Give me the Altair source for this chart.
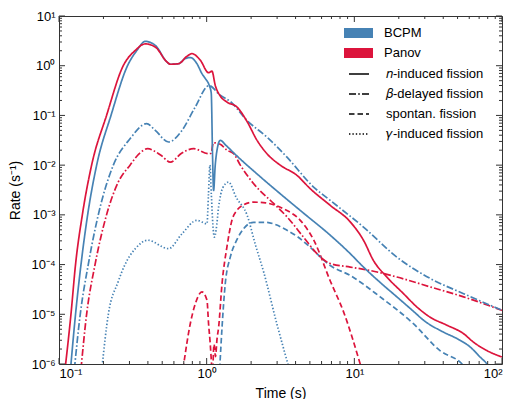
import altair as alt
import pandas as pd

# ---------------- data ----------------
models = ["BCPM", "Panov"]
model_colors = ["#4682b4", "#dc143c"]
kinds = ["𝑛-induced fission", "𝛽-delayed fission", "spontan. fission", "𝛾-induced fission"]
kind_dashes = [[1, 0], [7, 2.2, 1.6, 2.2], [5.5, 3], [1.4, 2]]

bcpm_n_t = [0.1197, 0.1294, 0.1409, 0.1563, 0.1799, 0.2249, 0.2911, 0.3373, 0.3837,
            0.4487, 0.5383, 0.5675, 0.6457, 0.7161, 0.7745, 0.859, 0.929, 0.9795, 1.042,
            1.074, 1.096, 1.114, 1.143, 1.175, 1.236, 1.349, 1.585, 2.239, 3.162,
            4.467, 6.871, 9.376, 11.53, 14.96, 19.41, 25.12, 29.44, 40.18, 49.55,
            60.95, 71.12, 79.07, 85.11]
bcpm_n_rate = [7.9e-7, 1.0e-5, 1.0e-4, 1.0e-3, 1.0e-2, 0.1, 1.0, 2.04, 3.09,
               2.57, 1.19, 1.07, 1.10, 1.39, 1.46, 1.10, 0.693, 0.550, 0.398,
               0.282, 0.0158, 3.09e-3, 0.0100, 0.0200, 0.0316, 0.0251, 0.0158, 6.31e-3, 2.63e-3,
               1.12e-3, 3.89e-4, 1.66e-4, 8.91e-5, 4.37e-5, 2.24e-5, 1.15e-5, 7.59e-6, 4.37e-6, 3.24e-6,
               2.19e-6, 1.38e-6, 1.0e-6, 7.1e-7]

panov_n_t = [0.1099, 0.1205, 0.1294, 0.1439, 0.1663, 0.2099, 0.2723, 0.3289, 0.3837,
             0.4487, 0.5383, 0.5675, 0.6457, 0.7362, 0.7943, 0.9057, 1.030, 1.086, 1.143,
             1.236, 1.371, 1.603, 1.875, 2.193, 2.559, 3.148, 4.083, 5.012, 6.871,
             9.376, 11.53, 13.49, 16.60, 21.53, 26.55, 32.66, 42.36, 54.95, 64.12,
             79.07, 100]
panov_n_rate = [7.9e-7, 1.0e-5, 1.0e-4, 1.0e-3, 1.0e-2, 0.1, 1.0, 2.04, 2.75,
                2.38, 1.19, 1.07, 1.10, 1.55, 1.75, 1.29, 0.724, 0.776, 0.404,
                0.246, 0.186, 0.148, 0.0759, 0.0316, 0.0170, 0.0100, 6.24e-3, 3.39e-3, 1.55e-3,
                7.24e-4, 3.09e-4, 1.20e-4, 5.62e-5, 2.60e-5, 1.40e-5, 8.71e-6, 6.03e-6, 4.07e-6, 2.75e-6,
                1.86e-6, 1.38e-6]

bcpm_beta_t = [0.1271, 0.1393, 0.1578, 0.1845, 0.2333, 0.3027, 0.3917, 0.4487, 0.5521, 0.6808, 0.8375,
               1.035, 1.236, 1.445, 1.875, 2.559, 3.499, 5.297, 6.871, 11.53, 19.41,
               32.66, 54.95, 100]
bcpm_beta_rate = [7.9e-7, 1.0e-5, 1.0e-4, 1.0e-3, 1.0e-2, 0.0339, 0.0684, 0.0501, 0.0292, 0.0501, 0.148,
                  0.398, 0.254, 0.1905, 0.0794, 0.0367, 0.01445, 3.63e-3, 1.95e-3, 5.69e-4, 1.41e-4,
                  5.25e-5, 2.60e-5, 1.20e-5]

panov_beta_t = [0.1409, 0.1538, 0.1754, 0.2099, 0.2512, 0.3027, 0.3548, 0.3981, 0.4898, 0.5675, 0.6761,
                0.8166, 1.030, 1.072, 1.109, 1.236, 1.371, 1.524, 1.690, 2.075, 2.838,
                3.499, 4.529, 5.585, 6.871, 9.376, 12.82, 19.41, 32.66, 54.95, 100]
panov_beta_rate = [7.9e-7, 1.0e-5, 1.0e-4, 1.0e-3, 4.47e-3, 1.0e-2, 0.0178, 0.0214, 0.0158, 0.01148, 0.0174,
                   0.0214, 0.0170, 0.0174, 0.0282, 0.0263, 0.0200, 0.0170, 0.0100, 4.27e-3, 1.70e-3,
                   9.12e-4, 3.55e-4, 1.66e-4, 1.05e-4, 8.91e-5, 7.59e-5, 5.62e-5, 3.55e-5, 2.24e-5, 1.20e-5]

bcpm_sf_t = [1.225, 1.271, 1.337, 1.445, 1.603, 1.778, 2.075, 2.512, 2.951, 3.499,
             4.169, 5.012, 6.871, 9.376, 14.96, 25.12, 38.02, 53.70, 57.54]
bcpm_sf_rate = [7.9e-7, 5.50e-6, 4.17e-5, 1.41e-4, 3.16e-4, 5.25e-4, 7.08e-4, 7.08e-4, 6.31e-4, 4.90e-4,
                3.55e-4, 2.24e-4, 9.55e-5, 6.03e-5, 2.24e-5, 6.46e-6, 1.86e-6, 1.0e-6, 7.9e-7]

panov_sf_a_t = [0.6918, 0.7745, 0.8375, 0.929, 1.005, 1.030, 1.057, 1.084]
panov_sf_a_rate = [7.9e-7, 6.46e-6, 1.62e-5, 2.82e-5, 1.91e-5, 6.46e-6, 2.57e-6, 7.9e-7]

panov_sf_b_t = [1.102, 1.122, 1.148, 1.175, 1.205, 1.271, 1.371, 1.483, 1.603, 1.778,
                2.075, 2.512, 3.319, 4.305, 5.297, 6.871, 8.453, 10.96, 11.22]
panov_sf_b_rate = [7.9e-7, 2.51e-6, 1.41e-6, 3.16e-6, 5.50e-6, 4.17e-5, 2.24e-4, 7.76e-4, 1.23e-3, 1.585e-3,
                   1.80e-3, 1.74e-3, 1.32e-3, 7.76e-4, 3.16e-4, 4.68e-5, 1.12e-5, 1.0e-6, 7.9e-7]

bcpm_gamma_t = [0.195, 0.2158, 0.2512, 0.2799, 0.3289, 0.3981, 0.5521, 0.6808, 0.859, 1.005, 1.028,
                1.052, 1.076, 1.102, 1.127, 1.159, 1.205, 1.288, 1.406, 1.585, 1.875,
                2.138, 2.432, 2.992, 3.589]
bcpm_gamma_rate = [7.9e-7, 1.0e-5, 4.47e-5, 1.0e-4, 2.09e-4, 3.09e-4, 2.09e-4, 4.17e-4, 7.76e-4, 6.61e-4, 2.51e-3,
                   1.0e-2, 2.51e-3, 6.31e-4, 3.55e-4, 5.01e-4, 1.445e-3, 3.55e-3, 4.57e-3, 2.24e-3, 1.0e-3,
                   2.51e-4, 7.08e-5, 6.31e-6, 8.9e-7]

x_major = [0.1, 1, 10, 100]
y_major = [1e-6, 1e-5, 1e-4, 1e-3, 1e-2, 1e-1, 1, 10]
x_minor = [m * d for d in (0.1, 1, 10) for m in range(2, 10)]
y_minor = [m * d for d in (1e-6, 1e-5, 1e-4, 1e-3, 1e-2, 1e-1, 1) for m in range(2, 10)]

# ---------------- build table ----------------
def part(t, r, model, kind, seg):
    return pd.DataFrame({"t": t, "rate": r, "model": model, "kind": kind, "seg": seg})

df = pd.concat([
    part(bcpm_gamma_t, bcpm_gamma_rate, "BCPM", kinds[3], "bg"),
    part(panov_sf_a_t, panov_sf_a_rate, "Panov", kinds[2], "psa"),
    part(panov_sf_b_t, panov_sf_b_rate, "Panov", kinds[2], "psb"),
    part(bcpm_sf_t, bcpm_sf_rate, "BCPM", kinds[2], "bs"),
    part(panov_beta_t, panov_beta_rate, "Panov", kinds[1], "pb"),
    part(bcpm_beta_t, bcpm_beta_rate, "BCPM", kinds[1], "bb"),
    part(bcpm_n_t, bcpm_n_rate, "BCPM", kinds[0], "bn"),
    part(panov_n_t, panov_n_rate, "Panov", kinds[0], "pn"),
], ignore_index=True)

W, H = 443, 348
FONT = "Liberation Sans"
FRAME = "#333333"

xs = alt.Scale(type="log", domain=[0.1, 100], nice=False)
ys = alt.Scale(type="log", domain=[1e-6, 10], nice=False)

SUP = {"-": "⁻", "0": "⁰", "1": "¹", "2": "²", "3": "³", "4": "⁴", "5": "⁵", "6": "⁶"}


def sup_expr(exps):
    expr = "''"
    for e in reversed(exps):
        s = "10" + "".join(SUP[c] for c in str(e))
        expr = f"(round(log(datum.value)/LN10) == {e} ? '{s}' : {expr})"
    return expr


x_axis = alt.Axis(values=x_major, labelExpr=sup_expr([-1, 0, 1, 2]), title="Time (s)",
                  labelPadding=3, titlePadding=6)
y_axis = alt.Axis(values=y_major, labelExpr=sup_expr([-6, -5, -4, -3, -2, -1, 0, 1]),
                  title="Rate (s⁻¹)", labelPadding=4, titlePadding=8)

# filled-looking swatch: a stack of thin horizontal strokes
SWATCH = "M-2.9,-0.8H2.9M-2.9,-0.4H2.9M-2.9,0H2.9M-2.9,0.4H2.9M-2.9,0.8H2.9"

lines = alt.Chart(df).mark_line(clip=True, strokeWidth=1.7, interpolate="monotone").encode(
    x=alt.X("t:Q", scale=xs, axis=x_axis),
    y=alt.Y("rate:Q", scale=ys, axis=y_axis),
    color=alt.Color("model:N", scale=alt.Scale(domain=models, range=model_colors),
                    legend=alt.Legend(orient="none", legendX=293, legendY=10.5, title=None,
                                      symbolType=SWATCH, symbolSize=100, labelOffset=19,
                                      rowPadding=3, padding=0, symbolStrokeWidth=2.2)),
    strokeDash=alt.StrokeDash("kind:N", scale=alt.Scale(domain=kinds, range=kind_dashes),
                              legend=alt.Legend(orient="none", legendX=289, legendY=47, title=None,
                                                symbolType="M-1,0H1", symbolSize=400, labelOffset=16,
                                                rowPadding=2, padding=0,
                                                symbolStrokeColor="black", symbolStrokeWidth=1.5)),
    detail="seg:N",
)


def xticks(vals, length, top):
    d = pd.DataFrame({"t": vals})
    y0 = 0 if top else H
    y1 = length if top else H - length
    return alt.Chart(d).mark_rule(color=FRAME, strokeWidth=1).encode(
        x=alt.X("t:Q", scale=xs, axis=x_axis), y=alt.value(y0), y2=alt.value(y1))


def yticks(vals, length, right):
    d = pd.DataFrame({"rate": vals})
    x0 = W if right else 0
    x1 = W - length if right else length
    return alt.Chart(d).mark_rule(color=FRAME, strokeWidth=1).encode(
        y=alt.Y("rate:Q", scale=ys, axis=y_axis), x=alt.value(x0), x2=alt.value(x1))


tick_layers = [
    xticks(x_major, 6, False), xticks(x_major, 6, True),
    xticks(x_minor, 3, False), xticks(x_minor, 3, True),
    yticks(y_major, 6, False), yticks(y_major, 6, True),
    yticks(y_minor, 3, False), yticks(y_minor, 3, True),
]

chart = alt.layer(lines, *tick_layers).properties(
    width=W, height=H,
    autosize=alt.AutoSizeParams(type="none"),
    padding={"left": 59, "top": 16, "right": 7, "bottom": 35},
).configure_view(stroke=FRAME, strokeWidth=1).configure_axis(
    labelFont=FONT, labelFontSize=13, labelColor="black",
    titleFont=FONT, titleFontSize=14, titleFontWeight="normal", titleColor="black",
    ticks=False, domain=False, grid=False,
).configure_legend(labelFont=FONT, labelFontSize=13, labelColor="black")

chart.save("out.html", embed_options={"renderer": "svg", "actions": False})
